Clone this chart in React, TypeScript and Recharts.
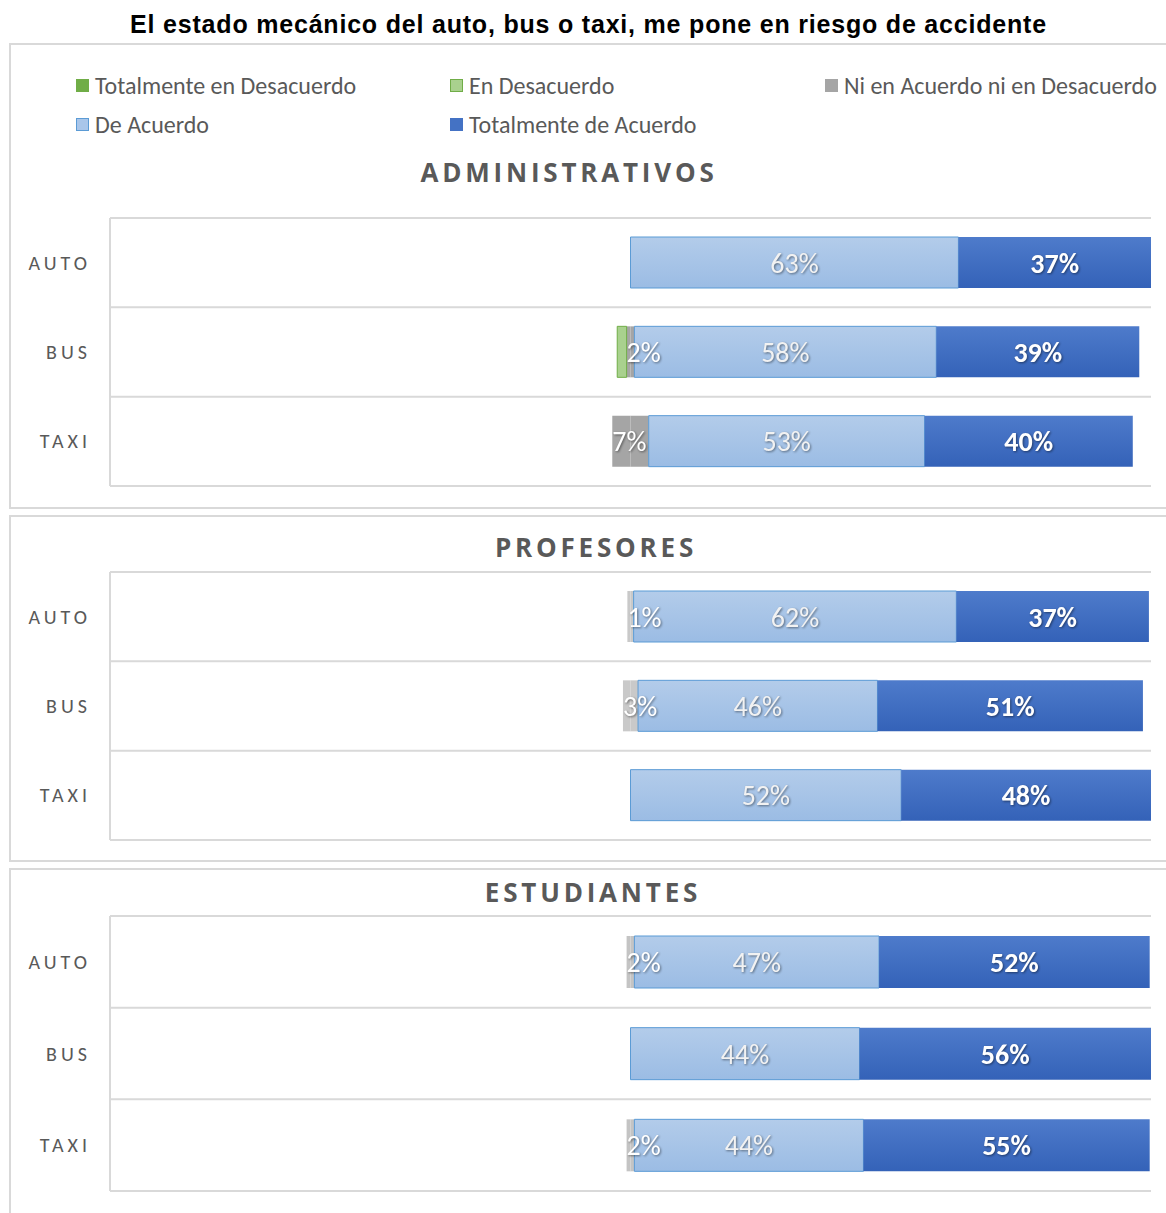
import React from "react";
import {
  BarChart,
  Bar,
  XAxis,
  YAxis,
  CartesianGrid,
  LabelList,
} from "recharts";

const categories = ["AUTO", "BUS", "TAXI"];

// ADMINISTRATIVOS
const adminTD = [0, 0, 0];
const adminD = [0, 1.8, 0];
const adminN = [0, 1.5, 7];
const adminA = [63, 58, 53];
const adminTA = [37, 39, 40];

// PROFESORES
const profTD = [0, 0, 0];
const profD = [0, 0, 0];
const profN = [1.2, 2.9, 0];
const profA = [62, 46, 52];
const profTA = [37, 51, 48];

// ESTUDIANTES
const estTD = [0, 0, 0];
const estD = [0, 0, 0];
const estN = [1.5, 0, 1.5];
const estA = [47, 44, 44];
const estTA = [52, 56, 55];

const legendItems = [
  { name: "Totalmente en Desacuerdo", fill: "#70AD47", stroke: "#70AD47" },
  { name: "En Desacuerdo", fill: "#A9D18E", stroke: "#70AD47" },
  { name: "Ni en Acuerdo ni en Desacuerdo", fill: "#A5A5A5", stroke: "#A5A5A5" },
  { name: "De Acuerdo", fill: "#A9C6EA", stroke: "#5B9BD5" },
  { name: "Totalmente de Acuerdo", fill: "#4472C4", stroke: "#4472C4" },
];

const FONT = "Carlito, Calibri, Lato, sans-serif";
const GRAY_TEXT = "#595959";

function buildRows(td: number[], d: number[], n: number[], a: number[], ta: number[]) {
  return categories.map((cat, i) => ({
    cat,
    nNeg: -n[i] / 2,
    d: -d[i],
    td: -td[i],
    nPos: n[i] / 2,
    a: a[i],
    ta: ta[i],
    n: n[i],
  }));
}

const pct = (v: number) => `${Math.round(v)}%`;

function CategoryTick(props: any) {
  const { y, payload } = props;
  return (
    <text
      x={91}
      y={y}
      dy={7}
      textAnchor="end"
      fill={GRAY_TEXT}
      fontFamily={FONT}
      fontSize={20}
      letterSpacing={4}
    >
      {payload.value}
    </text>
  );
}

const shadow = { filter: "drop-shadow(1px 1px 1px rgba(0,0,0,0.45))" };

function NeutralLabel(props: any) {
  const { x, y, width, height, value } = props;
  if (!value) return null;
  const left = Math.min(x, x + width);
  return (
    <text
      x={left}
      y={y + height / 2}
      dy={10}
      textAnchor="start"
      fill="#FFFFFF"
      fontFamily={FONT}
      fontSize={28}
      style={shadow}
    >
      {pct(value)}
    </text>
  );
}

function CenterLabel(bold: boolean) {
  return (props: any) => {
    const { x, y, width, height, value } = props;
    if (!value) return null;
    return (
      <text
        x={x + width / 2}
        y={y + height / 2}
        dy={10}
        textAnchor="middle"
        fill={bold ? "#FFFFFF" : "#F2F2F2"}
        fontFamily={FONT}
        fontWeight={bold ? 700 : 400}
        fontSize={28}
        style={shadow}
      >
        {pct(value)}
      </text>
    );
  };
}

function Panel({
  id,
  rows,
  height,
  barSize,
  neutralFill,
}: {
  id: string;
  rows: any[];
  height: number;
  barSize: number;
  neutralFill: string;
}) {
  return (
    <BarChart
      width={1166}
      height={height}
      data={rows}
      layout="vertical"
      stackOffset="sign"
      barSize={barSize}
      margin={{ top: 2, right: 15, bottom: 2, left: 0 }}
    >
      <defs>
        <linearGradient id={`${id}-a`} x1="0" y1="0" x2="0" y2="1">
          <stop offset="0%" stopColor="#B3CCEA" />
          <stop offset="100%" stopColor="#9BBCE4" />
        </linearGradient>
        <linearGradient id={`${id}-ta`} x1="0" y1="0" x2="0" y2="1">
          <stop offset="0%" stopColor="#4E7BCB" />
          <stop offset="100%" stopColor="#3462B8" />
        </linearGradient>
      </defs>
      <CartesianGrid
        vertical={false}
        stroke="#D9D9D9"
        strokeWidth={2}
        horizontalCoordinatesGenerator={({ offset }: any) => {
          const step = offset.height / categories.length;
          return categories
            .map((_, i) => offset.top + i * step)
            .concat([offset.top + offset.height]);
        }}
      />
      <XAxis type="number" domain={[-100, 100]} hide />
      <YAxis
        type="category"
        dataKey="cat"
        width={110}
        axisLine={{ stroke: "#D9D9D9", strokeWidth: 2 }}
        tickLine={false}
        tick={<CategoryTick />}
      />
      <Bar dataKey="nNeg" stackId="s" fill={neutralFill} isAnimationActive={false}>
        <LabelList dataKey="n" content={<NeutralLabel />} />
      </Bar>
      <Bar
        dataKey="d"
        stackId="s"
        fill="#A9D18E"
        stroke="#70AD47"
        strokeWidth={1}
        isAnimationActive={false}
      />
      <Bar dataKey="td" stackId="s" fill="#70AD47" isAnimationActive={false} />
      <Bar dataKey="nPos" stackId="s" fill={neutralFill} isAnimationActive={false} />
      <Bar
        dataKey="a"
        stackId="s"
        fill={`url(#${id}-a)`}
        stroke="#5B9BD5"
        strokeWidth={1}
        isAnimationActive={false}
      >
        <LabelList dataKey="a" content={CenterLabel(false)} />
      </Bar>
      <Bar dataKey="ta" stackId="s" fill={`url(#${id}-ta)`} isAnimationActive={false}>
        <LabelList dataKey="ta" content={CenterLabel(true)} />
      </Bar>
    </BarChart>
  );
}

const frame: React.CSSProperties = {
  position: "absolute",
  left: 9,
  width: 1175,
  border: "2px solid #D9D9D9",
  boxSizing: "border-box",
};

function PanelTitle({ text, cx, cy }: { text: string; cx: number; cy: number }) {
  return (
    <div
      style={{
        position: "absolute",
        left: cx - 300,
        top: cy - 18,
        width: 600,
        height: 36,
        lineHeight: "36px",
        textAlign: "center",
        fontFamily: "'Open Sans', sans-serif",
        fontWeight: 700,
        fontSize: 26,
        letterSpacing: 3.8,
        color: GRAY_TEXT,
      }}
    >
      {text}
    </div>
  );
}

export default function App() {
  const legendPos = [
    { x: 76, y: 85 },
    { x: 450, y: 85 },
    { x: 825, y: 85 },
    { x: 76, y: 124 },
    { x: 450, y: 124 },
  ];
  return (
    <div
      style={{
        position: "absolute",
        left: 0,
        top: 0,
        width: 1166,
        height: 1213,
        overflow: "hidden",
        background: "#FFFFFF",
      }}
    >
      <div
        style={{
          position: "absolute",
          left: 0,
          top: 9,
          width: 1177,
          textAlign: "center",
          fontFamily: "'Liberation Sans', Arial, sans-serif",
          fontWeight: 700,
          fontSize: 25,
          letterSpacing: 0.8,
          lineHeight: "30px",
          color: "#000000",
        }}
      >
        El estado mecánico del auto, bus o taxi, me pone en riesgo de accidente
      </div>

      <div style={{ ...frame, top: 43, height: 466 }} />
      <div style={{ ...frame, top: 515, height: 347 }} />
      <div style={{ ...frame, top: 868, height: 360 }} />

      {legendItems.map((item, i) => (
        <div
          key={item.name}
          style={{
            position: "absolute",
            left: legendPos[i].x,
            top: legendPos[i].y - 15,
            height: 30,
            display: "flex",
            alignItems: "center",
            fontFamily: FONT,
            fontSize: 24,
            color: GRAY_TEXT,
            whiteSpace: "nowrap",
          }}
        >
          <span
            style={{
              display: "inline-block",
              width: 11,
              height: 11,
              background: item.fill,
              border: `1px solid ${item.stroke}`,
              marginRight: 6,
            }}
          />
          {item.name}
        </div>
      ))}

      <PanelTitle text="ADMINISTRATIVOS" cx={569} cy={172} />
      <PanelTitle text="PROFESORES" cx={596} cy={547} />
      <PanelTitle text="ESTUDIANTES" cx={593} cy={892} />

      <div style={{ position: "absolute", left: 0, top: 216 }}>
        <Panel
          id="adm"
          rows={buildRows(adminTD, adminD, adminN, adminA, adminTA)}
          height={272}
          barSize={51}
          neutralFill="#A5A5A5"
        />
      </div>
      <div style={{ position: "absolute", left: 0, top: 570 }}>
        <Panel
          id="pro"
          rows={buildRows(profTD, profD, profN, profA, profTA)}
          height={272}
          barSize={51}
          neutralFill="#C9C9C9"
        />
      </div>
      <div style={{ position: "absolute", left: 0, top: 914 }}>
        <Panel
          id="est"
          rows={buildRows(estTD, estD, estN, estA, estTA)}
          height={279}
          barSize={52}
          neutralFill="#C4C4C4"
        />
      </div>
    </div>
  );
}
